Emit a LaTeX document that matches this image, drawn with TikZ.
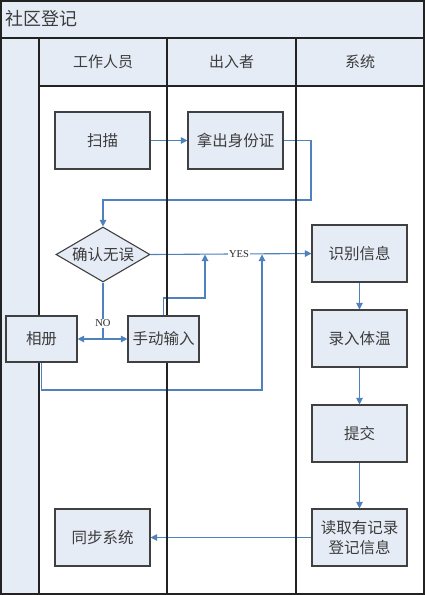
\documentclass[tikz,border=0pt]{standalone}
\usepackage{fontspec}
\newfontfamily\cjk{Noto Sans CJK SC}
\newfontfamily\lblfont{Liberation Serif}
\usetikzlibrary{arrows.meta,shapes.geometric}
\definecolor{lblue}{HTML}{E6ECF6}
\definecolor{flow}{HTML}{4F81BD}
\definecolor{framec}{HTML}{222222}
\definecolor{txt}{HTML}{3C3C3C}
\pgfdeclarelayer{bg}
\pgfdeclarelayer{conn}
\pgfdeclarelayer{lanes}
\pgfsetlayers{bg,conn,lanes,main}
\begin{document}
\begin{tikzpicture}[x=1pt,y=-1pt,
  box/.style={draw=black!75, line width=1.1pt, fill=lblue, minimum width=95pt, minimum height=57pt,
    inner sep=0pt, font=\cjk\fontsize{15.5}{19.5}\selectfont, text=txt, align=center},
  sbox/.style={box, minimum width=71pt, minimum height=46pt},
  dec/.style={box, diamond, shape aspect=1.7, minimum width=94pt, minimum height=55pt},
  hdr/.style={font=\cjk\fontsize{15}{18}\selectfont, text=txt},
  flowline/.style={draw=flow, line width=1.1pt},
  arr/.style={flowline, -{Triangle[length=6.5pt,width=6.5pt]}},
  lbl/.style={font=\lblfont\fontsize{10.5}{11}\selectfont, fill=white, inner sep=1pt, text=black!85},
  frameline/.style={draw=framec, line width=1.6pt}
]
\useasboundingbox (0,0) rectangle (425,595);
\begin{pgfonlayer}{bg}
  \fill[white] (0,0) rectangle (425,595);
  \fill[lblue] (1,1) rectangle (424,38);
  \fill[lblue] (1,38) rectangle (39,594);
  \fill[lblue] (39,38) rectangle (424,86);
\end{pgfonlayer}
\begin{pgfonlayer}{lanes}
  \draw[frameline] (1,1) rectangle (424,594);
  \draw[frameline] (1,38) -- (424,38);
  \draw[frameline] (39,86) -- (424,86);
  \draw[frameline] (39,38) -- (39,594);
  \draw[frameline] (167,38) -- (167,594);
  \draw[frameline] (296,38) -- (296,594);
\end{pgfonlayer}

\node[anchor=west, font=\cjk\fontsize{18}{20}\selectfont, text=txt] (title) at (2,19) {社区登记};
\node[hdr] (h1) at (103,62) {工作人员};
\node[hdr] (h2) at (231.5,62) {出入者};
\node[hdr] (h3) at (360,62) {系统};

\node[box] (scan) at (102.5,140.5) {扫描};
\node[box] (idc) at (235.5,140.5) {拿出身份证};
\node[dec] (chk) at (103,254.5) {确认无误};
\node[box] (rec) at (359.5,253.5) {识别信息};
\node[box] (temp) at (359.5,338.5) {录入体温};
\node[box] (sub) at (359.5,433.5) {提交};
\node[box] (read) at (359.5,537.5) {读取有记录\\登记信息};
\node[box] (sync) at (102.5,537.5) {同步系统};
\node[sbox] (album) at (41.5,339) {相册};
\node[sbox] (manual) at (163.5,339) {手动输入};

\coordinate (c1) at (311,200);
\coordinate (no) at (103,339);
\coordinate (m1) at (205,298);
\coordinate (a1) at (262,390);

\begin{pgfonlayer}{conn}
  \draw[arr] (scan) -- (idc);
  \draw[arr] (idc.east) -| (c1) -| (chk.north);
  \draw[arr] (chk.east) -- node[lbl, pos=0.55] {YES} (rec.west);
  \draw[flowline] (chk.south) -- node[lbl, pos=0.72] {NO} (no);
  \draw[arr] (no) -- (album.east);
  \draw[arr] (no) -- (manual.west);
  \draw[arr] (manual.north) |- (m1) -- (m1 |- chk.east);
  \draw[arr] (album.south) |- (a1) -- (a1 |- chk.east);
  \draw[arr] (rec) -- (temp);
  \draw[arr] (temp) -- (sub);
  \draw[arr] (sub) -- (read);
  \draw[arr] (read.west) -- (sync.east);
\end{pgfonlayer}
\end{tikzpicture}
\end{document}
